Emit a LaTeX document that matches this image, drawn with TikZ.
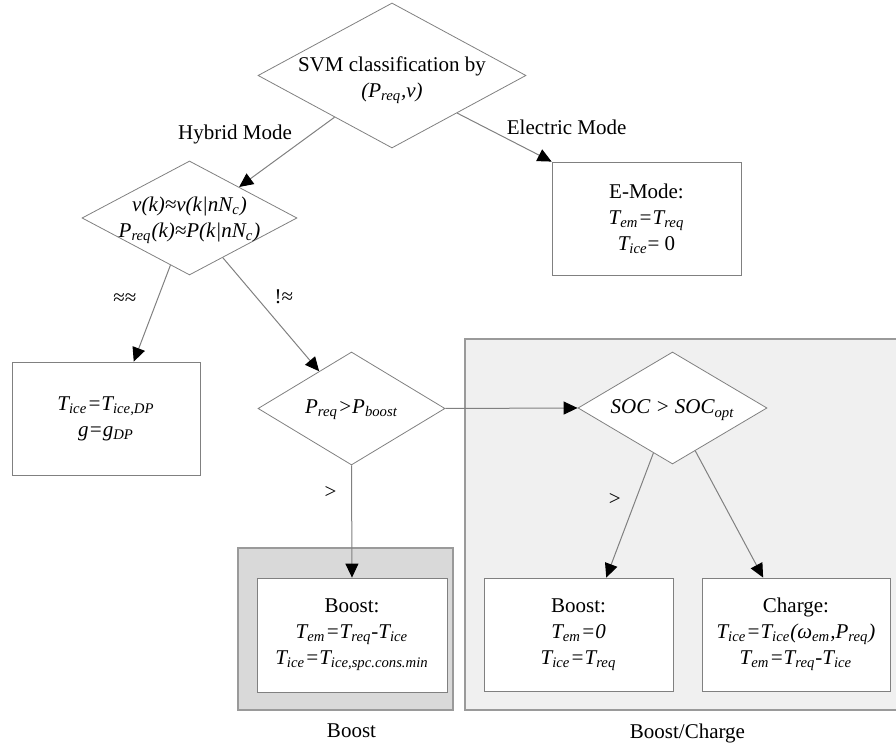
\documentclass[tikz,border=0pt]{standalone}
\usepackage{fontspec}
\setmainfont{Liberation Serif}
\usepackage{xcolor}
\usetikzlibrary{arrows.meta,positioning,shapes.geometric}
\definecolor{edge}{HTML}{808080}
\definecolor{zoneline}{HTML}{9A9A9A}
\definecolor{zonelight}{HTML}{F0F0F0}
\definecolor{zonedark}{HTML}{D9D9D9}
\newcommand{\sbs}[1]{\textsubscript{#1}}

\begin{document}
\begin{tikzpicture}[
    x=0.5pt, y=-0.5pt,
    font=\fontsize{10.5}{13}\selectfont,
    decision/.style={diamond, draw=edge, fill=white, inner sep=0pt},
    box/.style={rectangle, draw=edge, fill=white, align=center, inner sep=0pt},
    zone/.style={rectangle, draw=zoneline, line width=0.8pt, inner sep=0pt},
    txt/.style={align=center, inner sep=0pt},
    formula/.style={txt, execute at begin node=\itshape},
    arrow/.style={-{Triangle[length=7pt, width=6.5pt, color=black]}, draw=edge, line width=0.5pt}
]
    \useasboundingbox (0,0) rectangle (896,747);

    % operating zones
    \node[zone, fill=zonedark, minimum width=107.5pt, minimum height=81pt,
          label={[label distance=3pt, xshift=3pt]below:Boost}] (boostzone) at (345.5,629) {};
    \node[zone, fill=zonelight, minimum width=222.5pt, minimum height=185.5pt,
          label={[label distance=3pt]below:Boost/Charge}] (chargezone) at (687.5,524.5) {};

    % mode selection
    \node[decision, minimum width=134pt, minimum height=72.5pt] (svm) at (392,75.5) {};
    \node[txt] (svmtext) at (392,80) {SVM classification by\\{\itshape(P\sbs{req},v)}};
    \node[box, minimum width=94.5pt, minimum height=56.5pt] (emode) at (646.5,218.5)
        {E-Mode:\\{\itshape T\sbs{em}=T\sbs{req}}\\{\itshape T\sbs{ice}}= 0};

    % hybrid branch
    \node[decision, minimum width=107.5pt, minimum height=57pt] (sim) at (189.5,218) {};
    \node[formula] (simtext) at (189.5,220) {v(k)≈v(k|nN\sbs{c})\\P\sbs{req}(k)≈P(k|nN\sbs{c})};
    \node[box, minimum width=94pt, minimum height=56.5pt] (dp) at (106,418.5)
        {{\itshape T\sbs{ice}=T\sbs{ice,DP}}\\{\itshape g=g\sbs{DP}}};
    \node[decision, minimum width=93.5pt, minimum height=56.5pt] (chk) at (351.5,408.5) {};
    \node[formula] (chktext) at (351.5,410) {P\sbs{req}>P\sbs{boost}};
    \node[decision, minimum width=94.5pt, minimum height=56pt] (soc) at (672.5,408) {};
    \node[formula] (soctext) at (672.5,410) {SOC > SOC\sbs{opt}};

    % end states
    \node[box, minimum width=95pt, minimum height=57pt] (boost) at (352,635)
        {Boost:\\{\itshape T\sbs{em}=T\sbs{req}-T\sbs{ice}}\\{\itshape T\sbs{ice}=T\sbs{ice,spc.cons.min}}};
    \node[box, minimum width=94.5pt, minimum height=56.5pt] (boostsoc) at (578.5,634.5)
        {Boost:\\{\itshape T\sbs{em}=0}\\{\itshape T\sbs{ice}=T\sbs{req}}};
    \node[box, minimum width=94pt, minimum height=56.5pt] (charge) at (796,634.5)
        {Charge:\\{\itshape T\sbs{ice}=T\sbs{ice}(ω\sbs{em},P\sbs{req})}\\{\itshape T\sbs{em}=T\sbs{req}-T\sbs{ice}}};

    % connectors
    \draw[arrow] (svm.-144) -- node[pos=0.42, above left, inner sep=1pt]{Hybrid Mode} (sim.32);
    \draw[arrow] (svm.-30) -- node[pos=0.5, above right, inner sep=1pt]{Electric Mode} (emode.north west);
    \draw[arrow] (sim.-112) -- node[pos=0.35, left=7pt]{≈≈} (dp.64);
    \draw[arrow] (sim.-50) -- node[pos=0.34, right=6pt]{!≈} (chk.131);
    \draw[arrow] (chk.south) -- node[pos=0.24, left=4pt]{>} (boost.north);
    \draw[arrow] (chk.east) -- (soc.west);
    \draw[arrow] (soc.-113) -- node[pos=0.37, left=4pt]{>} (boostsoc.64);
    \draw[arrow] (soc.-62) -- (charge.120);
\end{tikzpicture}
\end{document}
